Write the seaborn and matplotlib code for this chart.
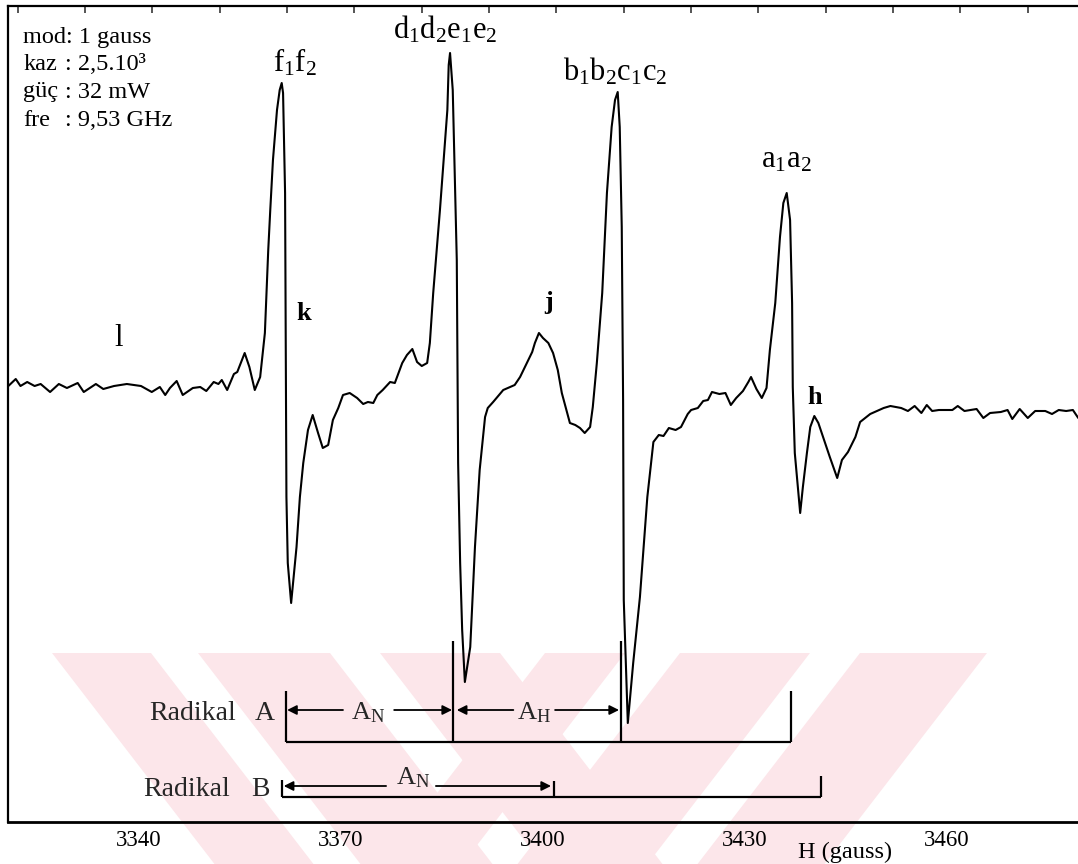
import matplotlib
matplotlib.use("Agg")
import matplotlib.pyplot as plt
from matplotlib.patches import Polygon
import numpy as np
import pandas as pd
import seaborn as sns

# ---- EPR spectrum (magnetic field in gauss, first-derivative signal in a.u.) ----
field_gauss = [
    3320.6, 3321.7, 3322.4, 3323.4, 3324.5, 3325.4, 3326.8, 3328.1, 3329.3, 3330.9,
    3331.8, 3333.6, 3334.7, 3336.3, 3338.2, 3340.3, 3341.9, 3343.1, 3343.9, 3344.6,
    3345.6, 3346.5, 3348.0, 3349.1, 3350.0, 3351.1, 3351.8, 3352.3, 3353.1, 3354.1,
    3354.6, 3355.7, 3356.4, 3357.2, 3358.0, 3358.7, 3359.2, 3359.5, 3359.9, 3360.5,
    3360.9, 3361.2, 3361.4, 3361.7, 3361.8, 3361.9, 3362.1, 3362.6, 3363.4, 3363.9, 3364.4,
    3365.1, 3365.8, 3366.6, 3367.3, 3368.1, 3368.8, 3369.6, 3370.3, 3371.3, 3372.4,
    3373.3, 3374.0, 3374.8, 3375.4, 3376.2, 3377.3, 3378.0, 3379.1, 3379.8, 3380.6,
    3381.3, 3382.0, 3382.8, 3383.2, 3383.7, 3384.7, 3385.8, 3386.0, 3386.2, 3386.6, 3387.2,
    3387.4, 3387.7, 3388.0, 3388.4, 3389.2, 3389.9, 3390.6, 3391.4, 3391.8, 3392.6,
    3394.1, 3395.1, 3395.8, 3396.6, 3397.6, 3398.4, 3398.8, 3399.4, 3400.0, 3400.8,
    3401.5, 3402.2, 3402.8, 3403.6, 3404.0, 3404.8, 3405.5, 3406.2, 3407.0, 3407.4,
    3408.0, 3408.8, 3409.5, 3410.2, 3410.7, 3411.1, 3411.4, 3411.7, 3411.9, 3412.0, 3412.3,
    3412.6, 3413.4, 3414.4, 3415.5, 3416.4, 3417.2, 3417.9, 3418.7, 3419.7, 3420.5,
    3421.5, 3422.0, 3423.0, 3423.8, 3424.5, 3425.1, 3426.2, 3427.1, 3427.9, 3428.7,
    3429.7, 3430.5, 3430.9, 3431.7, 3432.5, 3433.2, 3433.7, 3434.5, 3435.2, 3435.7,
    3436.2, 3436.7, 3437.0, 3437.1, 3437.4, 3438.2, 3438.6, 3439.2, 3439.7, 3440.3,
    3440.9, 3441.6, 3442.6, 3443.7, 3444.4, 3445.3, 3446.4, 3447.1, 3448.6, 3450.6,
    3451.6, 3453.2, 3454.2, 3455.2, 3456.2, 3457.0, 3457.8, 3458.8, 3460.8, 3461.6,
    3462.6, 3464.4, 3465.4, 3466.4, 3468.0, 3469.0, 3469.7, 3470.8, 3472.0, 3473.1,
    3474.6, 3475.6, 3476.6, 3477.7, 3478.7, 3479.5,
]
signal = [
    14, 21, 14, 18, 14, 16, 8, 16, 12, 17,
    8, 16, 11, 14, 16, 14, 8, 13, 5, 12,
    19, 5, 12, 13, 9, 18, 16, 20, 10, 26,
    28, 47, 33, 10, 23, 67, 150, 190, 240, 290,
    310, 317, 307, 207, 47, -97, -163, -203, -147, -97, -63,
    -30, -15, -33, -48, -45, -20, -8, 5, 7, 2,
    -4, -2, -3, 5, 10, 18, 17, 37, 45, 51,
    38, 34, 37, 57, 107, 190, 290, 335, 347, 310, 140,
    -63, -163, -230, -282, -247, -147, -70, -17, -8, -2,
    10, 13, 15, 23, 37, 48, 57, 67, 62, 57,
    47, 30, 7, -13, -23, -25, -28, -33, -27, -7,
    37, 107, 207, 273, 300, 308, 273, 173, 0, -200, -263,
    -323, -263, -197, -97, -42, -35, -36, -28, -30, -27,
    -14, -10, -8, -1, 0, 8, 6, 7, -5, 2,
    9, 18, 23, 11, 2, 12, 50, 97, 163, 197,
    207, 180, 97, 13, -53, -113, -87, -53, -27, -16,
    -23, -37, -57, -78, -60, -52, -37, -22, -14, -8,
    -6, -8, -11, -6, -13, -5, -11, -10, -10, -6,
    -11, -9, -18, -13, -12, -10, -19, -9, -18, -11,
    -11, -14, -10, -11, -10, -18,
]

# ---- axis ticks ----
tick_fields = list(range(3330, 3480, 10))
labelled_fields = [3340, 3370, 3400, 3430, 3460]
top_tick_fields = list(range(3322, 3480, 10))

# ---- peak assignments ----
peak_labels = [r"$\mathrm{f_1f_2}$", r"$\mathrm{d_1d_2e_1e_2}$",
               r"$\mathrm{b_1b_2c_1c_2}$", r"$\mathrm{a_1a_2}$"]
peak_label_field = [3363.2, 3385.5, 3410.7, 3436.1]
peak_label_level = [337, 370, 328, 240]

minor_labels = ["l", "k", "j", "h"]
minor_label_field = [3337.0, 3364.4, 3400.8, 3440.4]
minor_label_level = [62, 87, 97, 3]

# ---- stick diagrams of the two radicals ----
radical_a_lines = [3361.8, 3386.7, 3411.6, 3436.9]
radical_a_tops = [-291, -241, -241, -291]
radical_a_base = -342
radical_b_lines = [3361.2, 3401.6, 3441.3]
radical_b_tops = [-380, -381, -376]
radical_b_base = -397

settings_names = ["mod: 1 gauss", "kaz", "güç", "fre"]
settings_values = ["", ": 2,5.10³", ": 32 mW", ": 9,53 GHz"]

sns.set_theme(style="white")
plt.rcParams["font.family"] = ["Liberation Serif", "DejaVu Serif"]
plt.rcParams["mathtext.fontset"] = "custom"
plt.rcParams["mathtext.rm"] = "Liberation Serif"
plt.rcParams["mathtext.it"] = "Liberation Serif:italic"
plt.rcParams["mathtext.bf"] = "Liberation Serif:bold"

W, H = 1078, 864
fig = plt.figure(figsize=(W / 100, H / 100), dpi=100)
fig.patch.set_facecolor("white")


# faint archive watermark: two fans of diagonal bands at the foot of the page
def band(x_left, x_right, shift, y_top=653, y_bot=H):
    dy = y_bot - y_top
    pts = [(x_left, y_top), (x_right, y_top),
           (x_right + shift * dy, y_bot), (x_left + shift * dy, y_bot)]
    return Polygon([(px / W, 1 - py / H) for px, py in pts],
                   closed=True, transform=fig.transFigure,
                   facecolor="#fce6ea", edgecolor="none", zorder=0)


for xl, xr in [(52, 151), (198, 330), (380, 500)]:
    fig.add_artist(band(xl, xr, 0.77))
for xl, xr in [(545, 625), (680, 810), (860, 987)]:
    fig.add_artist(band(xl, xr, -0.77))

ax = fig.add_axes([8 / W, 42 / H, 1 - 8 / W, 816 / H])
ax.set_facecolor("none")
ax.set_zorder(2)

spectrum = pd.DataFrame({"H": field_gauss, "signal": signal})
sns.lineplot(data=spectrum, x="H", y="signal", sort=False, estimator=None,
             color="black", linewidth=1.5, ax=ax)

ax.set_xlim(3320.55, 3479.46)
ax.set_ylim(-422, 394)
ax.set_xlabel("")
ax.set_ylabel("")
ax.set_yticks([])

ax.set_xticks(tick_fields)
ax.set_xticklabels([str(t) if t in labelled_fields else "" for t in tick_fields],
                   fontsize=16.5)
ax.tick_params(axis="x", direction="in", length=5, width=1.1, color="black",
               pad=6, labelcolor="black")
for side in ["left", "top", "bottom"]:
    ax.spines[side].set_visible(True)
    ax.spines[side].set_color("black")
ax.spines["left"].set_linewidth(1.6)
ax.spines["top"].set_linewidth(1.6)
ax.spines["bottom"].set_linewidth(2.0)
ax.spines["right"].set_visible(False)

top = ax.secondary_xaxis("top")
top.set_xticks(top_tick_fields)
top.tick_params(axis="x", direction="in", length=5, width=1.1, labeltop=False)
top.spines["top"].set_visible(False)

ax.text(3444.9, -0.037, "H (gauss)", transform=ax.get_xaxis_transform(),
        ha="center", va="center", fontsize=17.5, color="black")

# instrument settings
rows_y = [362, 335, 308, 280]
for name, value, yv in zip(settings_names, settings_values, rows_y):
    ax.text(3322.8, yv, name, ha="left", va="center", fontsize=17.5, color="black")
    if value:
        ax.text(3329.0, yv, value, ha="left", va="center", fontsize=17.5, color="black")

for lab, xv, yv in zip(peak_labels, peak_label_field, peak_label_level):
    ax.text(xv, yv, lab, ha="center", va="center", fontsize=22, color="black")
for lab, xv, yv in zip(minor_labels, minor_label_field, minor_label_level):
    if lab == "l":
        ax.text(xv, yv, lab, ha="center", va="center", fontsize=22, color="black")
    else:
        ax.text(xv, yv, lab, ha="center", va="center", fontsize=19,
                fontweight="bold", color="black")

# radical A stick pattern
ax.vlines(radical_a_lines, radical_a_base, radical_a_tops, color="black", lw=1.6)
ax.hlines(radical_a_base, radical_a_lines[0], radical_a_lines[-1], color="black", lw=1.6)
# radical B stick pattern
ax.vlines(radical_b_lines, radical_b_base, radical_b_tops, color="black", lw=1.6)
ax.hlines(radical_b_base, radical_b_lines[0], radical_b_lines[-1], color="black", lw=1.6)

arrow_kw = dict(arrowstyle="-|>", color="black", lw=1.3, mutation_scale=14,
                shrinkA=0, shrinkB=0)


def span_arrow(x_from, x_to, yv):
    ax.annotate("", xy=(x_to, yv), xytext=(x_from, yv), arrowprops=arrow_kw)


span_arrow(3370.3, 3362.0, -310)
span_arrow(3377.9, 3386.5, -310)
span_arrow(3395.6, 3387.2, -310)
span_arrow(3401.8, 3411.3, -310)
span_arrow(3376.7, 3361.5, -386)
span_arrow(3384.1, 3401.2, -386)

ax.text(3374.0, -313, r"$\mathrm{A_N}$", ha="center", va="center", fontsize=19)
ax.text(3398.7, -313, r"$\mathrm{A_H}$", ha="center", va="center", fontsize=19)
ax.text(3380.7, -378, r"$\mathrm{A_N}$", ha="center", va="center", fontsize=19)

ax.text(3354.4, -314, "Radikal", ha="right", va="center", fontsize=20)
ax.text(3358.7, -314, "A", ha="center", va="center", fontsize=20)
ax.text(3353.5, -389, "Radikal", ha="right", va="center", fontsize=20)
ax.text(3358.0, -389, "B", ha="center", va="center", fontsize=20)

fig.savefig("out.png", dpi=100, facecolor="white")
